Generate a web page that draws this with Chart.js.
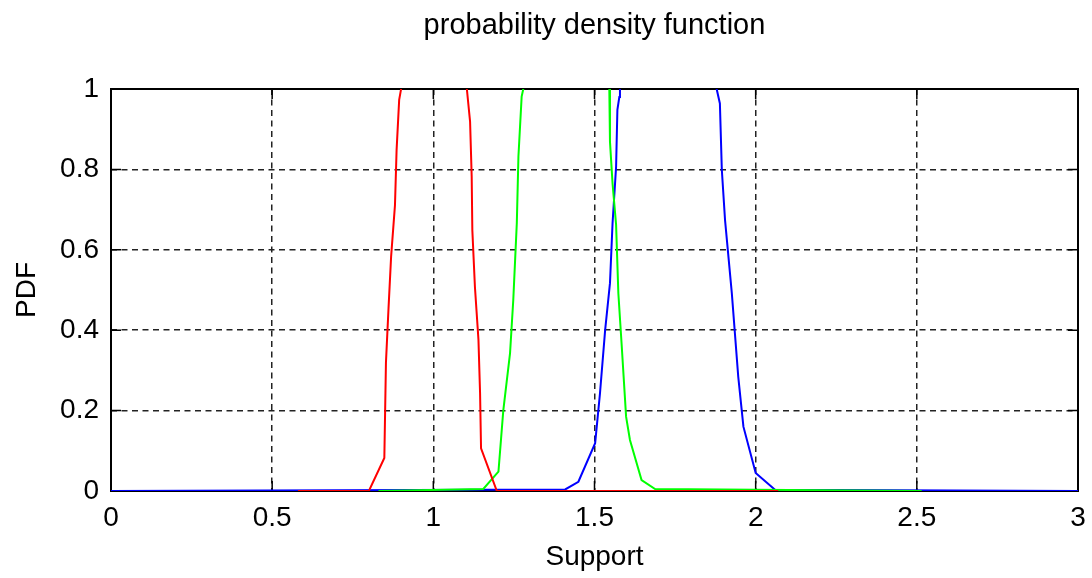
<!DOCTYPE html>
<html lang="en">
<head>
  <meta charset="UTF-8">
  <title>probability density function</title>
  <style>
    html, body { margin: 0; padding: 0; background: #fff; }
    #pdfCanvas { display: block; }
  </style>
</head>
<body>
  <canvas id="pdfCanvas" width="1092" height="578"></canvas>

  <script src="https://cdn.jsdelivr.net/npm/chart.js"></script>
  <script>
    // values (peaks run past the top and get clipped)
    const redX   = [0.58, 0.80, 0.848, 0.853, 0.861, 0.869, 0.881, 0.886, 0.894, 0.90, 1.0, 1.104, 1.114, 1.119, 1.121, 1.129, 1.140, 1.145, 1.148, 1.197, 2.07];
    const redY   = [0, 0, 0.082, 0.32, 0.455, 0.583, 0.711, 0.848, 0.973, 1.0, 2.5, 1.0, 0.919, 0.782, 0.649, 0.508, 0.376, 0.243, 0.106, 0, 0];

    const greenX = [0.83, 1.155, 1.202, 1.217, 1.238, 1.248, 1.259, 1.264, 1.274, 1.279, 1.41, 1.546, 1.548, 1.556, 1.567, 1.574, 1.584, 1.598, 1.610, 1.646, 1.688, 2.515];
    const greenY = [0, 0.005, 0.048, 0.2, 0.343, 0.475, 0.667, 0.832, 0.981, 1.0, 3.0, 1.0, 0.869, 0.765, 0.662, 0.492, 0.367, 0.185, 0.127, 0.027, 0.005, 0];

    const blueX  = [0, 1.409, 1.45, 1.502, 1.517, 1.533, 1.548, 1.556, 1.567, 1.571, 1.577, 1.579, 1.73, 1.879, 1.889, 1.895, 1.905, 1.926, 1.946, 1.962, 2.0, 2.06, 3];
    const blueY  = [0, 0.004, 0.023, 0.119, 0.243, 0.4, 0.517, 0.666, 0.807, 0.948, 0.98, 1.0, 3.0, 1.0, 0.964, 0.799, 0.674, 0.492, 0.284, 0.16, 0.045, 0.003, 0];

    const xTicks = [0, 0.5, 1, 1.5, 2, 2.5, 3];
    const yTicks = [0, 0.2, 0.4, 0.6, 0.8, 1];

    const FONT = "'Liberation Sans', Arial, sans-serif";

    function toPoints(xs, ys) {
      return xs.map((x, i) => ({ x: x, y: ys[i] }));
    }

    // box round the axes and small inward tick marks, matlab style
    const frameTicks = {
      id: 'frameTicks',
      beforeDatasetsDraw(chart) {
        const { ctx, chartArea: a, scales } = chart;
        const len = 10;
        ctx.save();
        ctx.strokeStyle = '#000';
        ctx.lineWidth = 1.5;
        scales.x.ticks.forEach(t => {
          const px = scales.x.getPixelForValue(t.value);
          ctx.beginPath();
          ctx.moveTo(px, a.bottom); ctx.lineTo(px, a.bottom - len);
          ctx.moveTo(px, a.top); ctx.lineTo(px, a.top + len);
          ctx.stroke();
        });
        scales.y.ticks.forEach(t => {
          const py = scales.y.getPixelForValue(t.value);
          ctx.beginPath();
          ctx.moveTo(a.left, py); ctx.lineTo(a.left + len, py);
          ctx.moveTo(a.right, py); ctx.lineTo(a.right - len, py);
          ctx.stroke();
        });
        ctx.lineWidth = 2;
        ctx.strokeRect(a.left, a.top, a.right - a.left, a.bottom - a.top);
        ctx.restore();
      }
    };

    const ctx = document.getElementById('pdfCanvas').getContext('2d');

    new Chart(ctx, {
      type: 'line',
      data: {
        datasets: [
          { data: toPoints(redX, redY), borderColor: '#ff0000', borderWidth: 2 },
          { data: toPoints(greenX, greenY), borderColor: '#00ff00', borderWidth: 2 },
          { data: toPoints(blueX, blueY), borderColor: '#0000ff', borderWidth: 2 }
        ]
      },
      options: {
        responsive: false,
        animation: false,
        events: [],
        elements: { point: { radius: 0 }, line: { tension: 0, fill: false } },
        layout: { padding: { top: 0, left: 0, right: 14, bottom: 0 } },
        plugins: {
          legend: { display: false },
          tooltip: { enabled: false }
        },
        scales: {
          x: {
            type: 'linear',
            min: 0,
            max: 3,
            afterBuildTicks: s => { s.ticks = xTicks.map(v => ({ value: v })); },
            afterFit: s => { s.height = 87; s.paddingRight = 8; s.paddingLeft = 8; },
            grid: { color: '#222', lineWidth: 1.5, drawTicks: false },
            border: { display: false, dash: [6, 4.5] },
            ticks: {
              color: '#000',
              font: { family: FONT, size: 28 },
              padding: 10,
              maxRotation: 0,
              callback: v => String(v)
            },
            title: {
              display: true,
              text: 'Support',
              color: '#000',
              font: { family: FONT, size: 28 },
              padding: { top: 0, bottom: 4 }
            }
          },
          // top axis only carries the title, so it sits centred over the plot box
          xTop: {
            type: 'linear',
            position: 'top',
            min: 0,
            max: 3,
            afterFit: s => { s.height = 89; s.paddingRight = 0; s.paddingLeft = 0; },
            grid: { display: false },
            border: { display: false },
            ticks: { display: false },
            title: {
              display: true,
              text: 'probability density function',
              color: '#000',
              font: { family: FONT, size: 29 },
              padding: { top: 9, bottom: 0 }
            }
          },
          y: {
            min: 0,
            max: 1,
            afterBuildTicks: s => { s.ticks = yTicks.map(v => ({ value: v })); },
            afterFit: s => { s.width = 111; },
            grid: { color: '#222', lineWidth: 1.5, drawTicks: false },
            border: { display: false, dash: [6, 4.5] },
            ticks: {
              color: '#000',
              font: { family: FONT, size: 28 },
              padding: 12,
              callback: v => String(v)
            },
            title: {
              display: true,
              text: 'PDF',
              color: '#000',
              font: { family: FONT, size: 28 },
              padding: { top: 10, bottom: 0 }
            }
          }
        }
      },
      plugins: [frameTicks]
    });
  </script>
</body>
</html>
